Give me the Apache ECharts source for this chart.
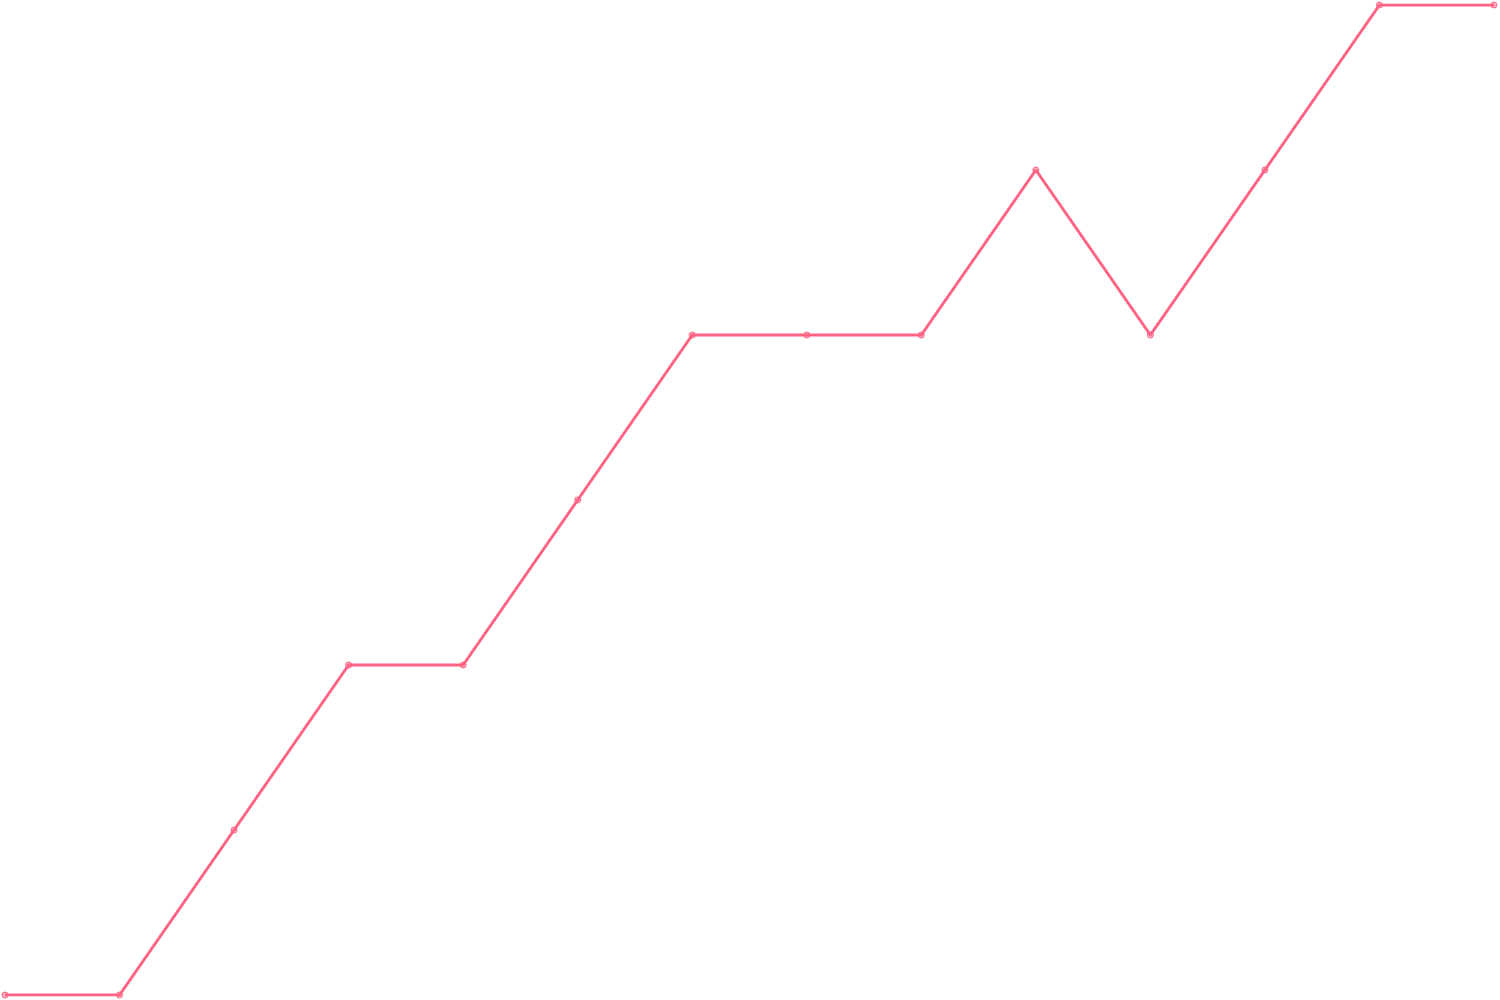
<!DOCTYPE html>
<html><head><meta charset="utf-8">
<script src="https://cdn.jsdelivr.net/npm/echarts@6/dist/echarts.min.js"></script>
<style>html,body{margin:0;padding:0;background:#fff}#c{width:1500px;height:1000px}</style>
</head><body><div id="c"></div>
<script>
const categories = ['1','2','3','4','5','6','7','8','9','10','11','12','13','14'];
const values = [0,0,1,2,2,3,4,4,4,5,4,5,6,6];
const chart = echarts.init(document.getElementById('c'));
chart.setOption({
  animation:false,
  grid:{left:5,right:6,top:5,bottom:5},
  xAxis:{type:'category',data:categories,boundaryGap:false,show:false},
  yAxis:{type:'value',min:0,max:6,show:false},
  series:[{type:'line',data:values,symbol:'circle',symbolSize:6,
    lineStyle:{color:'#ff6384',width:3},
    itemStyle:{color:'rgba(255,99,132,0.5)',borderColor:'#ff6384',borderWidth:1}}]
});
</script></body></html>
